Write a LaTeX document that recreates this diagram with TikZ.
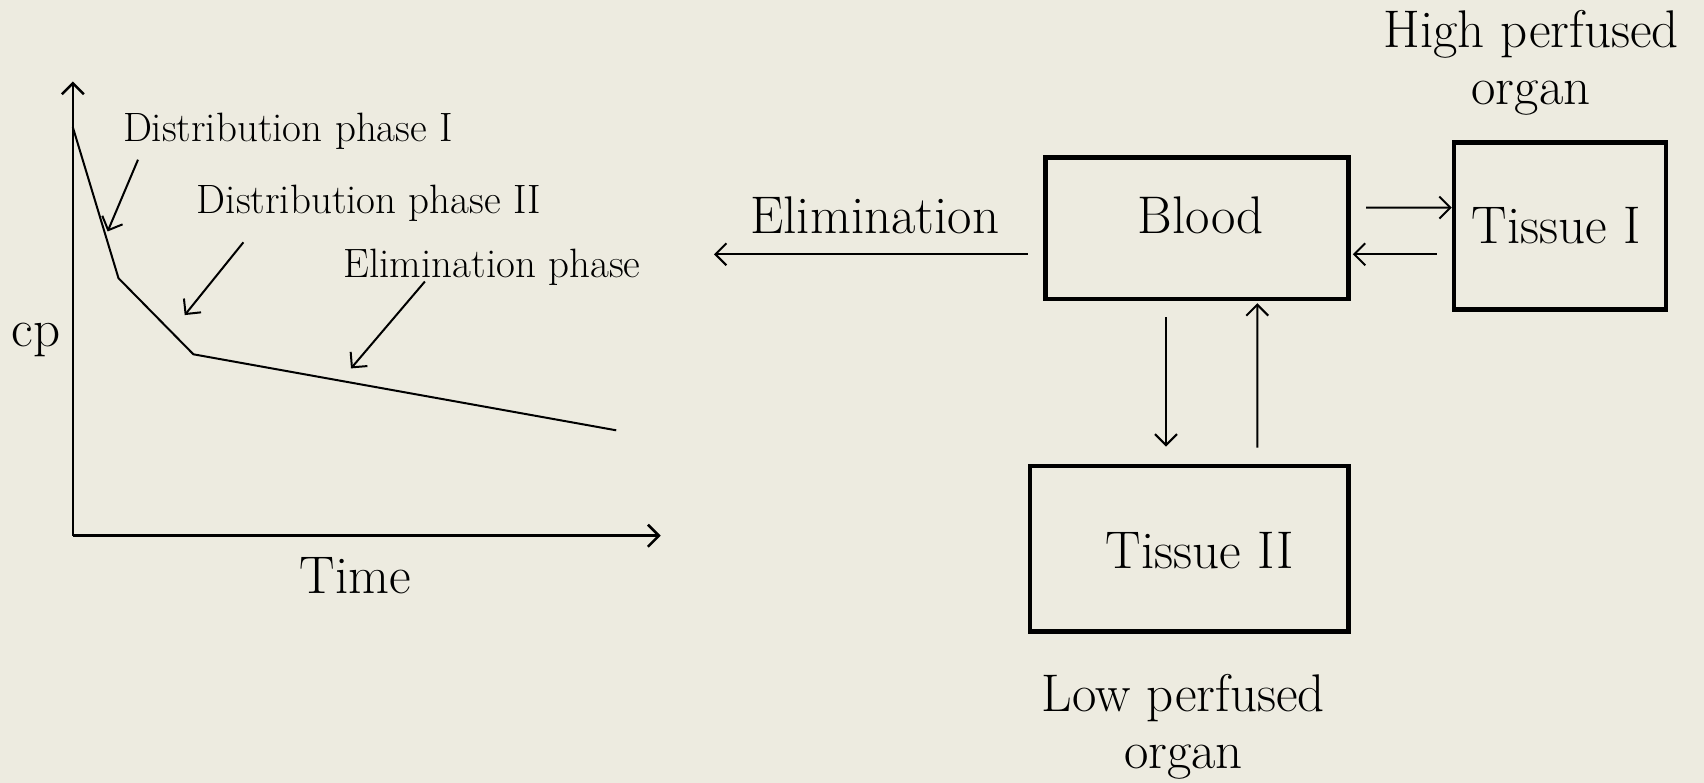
\documentclass[tikz,border=0pt]{standalone}
\usetikzlibrary{arrows.meta}
\definecolor{bg}{RGB}{237,235,224}
\tikzset{
  big/.style={font=\fontsize{53}{56.5}\selectfont, inner sep=0pt},
  small/.style={font=\fontsize{41}{46}\selectfont, inner sep=0pt},
  box/.style={draw, line width=4.5pt, inner sep=0pt},
  arr/.style={line width=2pt, -{Straight Barb[length=11pt,width=22pt,line width=2pt]}},
  thin/.style={line width=2pt},
}
\begin{document}
\begin{tikzpicture}[x=1pt,y=-1pt]
\fill[bg] (0,0) rectangle (1704,783);
\useasboundingbox (0,0) rectangle (1704,783);
% axes
\coordinate (O) at (72.8,535.7);
\coordinate (ytop) at (72.8,81.5);
\coordinate (xend) at (660.7,535.7);
\draw[line width=2.5pt, -{Straight Barb[length=11pt,width=22pt,line width=2.5pt]}] (O) -- (ytop);
\draw[line width=2.5pt, -{Straight Barb[length=11pt,width=22pt,line width=2.5pt]}] (O) -- (xend);
\node[big] (cp) at (35.9,340) {cp};
\node[big] (time) at (355.3,576) {Time};
% curve
\coordinate (c0) at (72.8,127.1);
\coordinate (c1) at (118.5,278.2);
\coordinate (c2) at (193.4,354.3);
\coordinate (c3) at (616.2,430.3);
\draw[thin, line join=miter] (c0) -- (c1) -- (c2) -- (c3);
% phase labels
\node[small, anchor=west] (d1) at (122.8,131) {Distribution phase I};
\node[small, anchor=west] (d2) at (196.7,203) {Distribution phase II};
\node[small, anchor=west] (el) at (343.4,267) {Elimination phase};
\coordinate (a1s) at (138,159.7);
\coordinate (a1e) at (107.6,231.5);
\coordinate (a2s) at (243.4,242.3);
\coordinate (a2e) at (184.7,315.1);
\coordinate (a3s) at (424.9,281.5);
\coordinate (a3e) at (351,368.4);
\draw[arr] (a1s) -- (a1e);
\draw[arr] (a2s) -- (a2e);
\draw[arr] (a3s) -- (a3e);
% compartments
\node[box, minimum width=303.2pt, minimum height=141.2pt] (blood) at (1197,228.2) {};
\node[box, minimum width=211.9pt, minimum height=167.3pt] (tis1) at (1559.95,226.05) {};
\node[box, minimum width=318.4pt, minimum height=165.2pt] (tis2) at (1189.4,548.8) {};
\node[big] (bloodt) at (1200.8,215.2) {Blood};
\node[big] (tis1t) at (1556.2,226) {Tissue I};
\node[big] (tis2t) at (1199.7,551) {Tissue II};
\node[big] (elim) at (874.8,215.2) {Elimination};
\node[big, align=center] (high) at (1531,63) {High perfused\\organ};
\node[big, align=center] (low) at (1183.4,727) {Low perfused\\organ};
\coordinate (elimend) at (714,254.3);
\draw[arr] ([xshift=-15.2pt,yshift=-26.1pt]blood.west) -- (elimend);
\draw[arr] ([xshift=15.2pt,yshift=20.6pt]blood.east) -- ([yshift=18.45pt]tis1.west);
\draw[arr] ([xshift=-15.2pt,yshift=-28.25pt]tis1.west) -- ([xshift=2pt,yshift=-26.1pt]blood.east);
\draw[arr] ([xshift=-31pt,yshift=-16.3pt]blood.south) -- ([xshift=-23.4pt,yshift=17.4pt]tis2.north);
\draw[arr] ([xshift=67.9pt,yshift=16.3pt]tis2.north) -- ([xshift=60.3pt,yshift=-2.2pt]blood.south);
\end{tikzpicture}
\end{document}
